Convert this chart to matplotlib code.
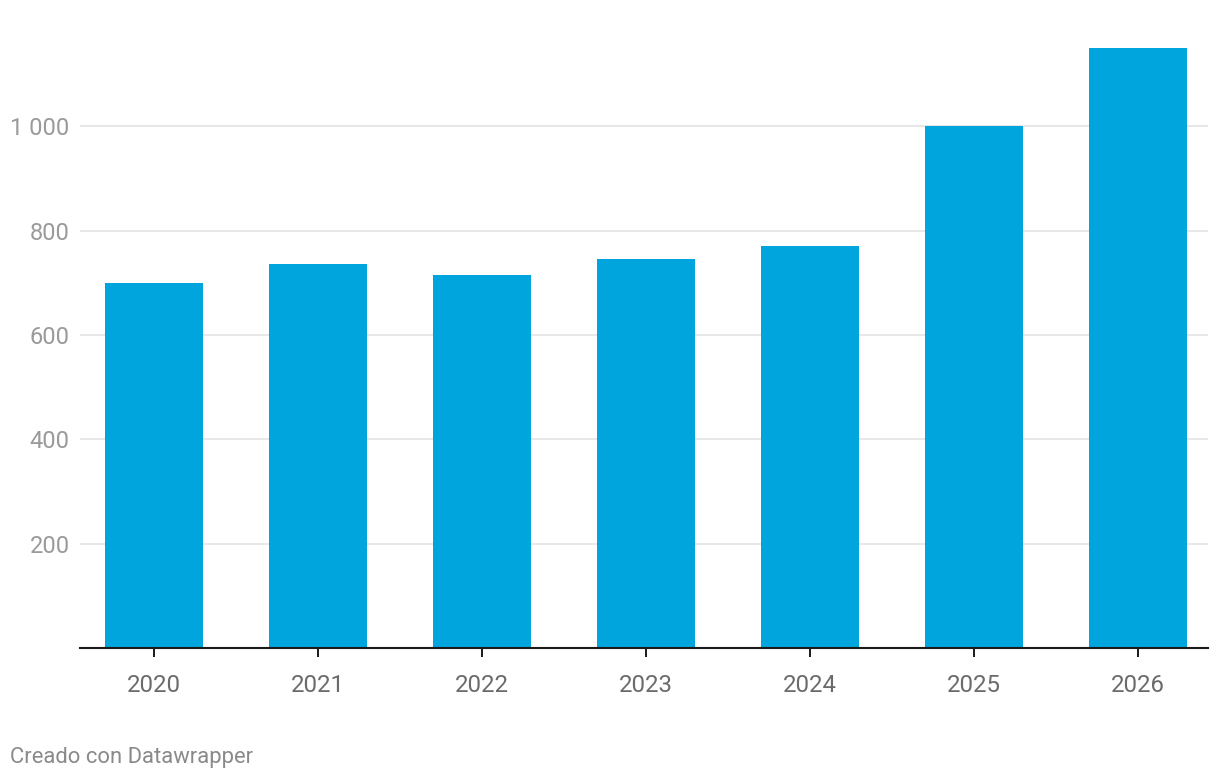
import matplotlib
matplotlib.use("Agg")
import matplotlib.pyplot as plt
from matplotlib.ticker import FuncFormatter, FixedLocator

years = ["2020", "2021", "2022", "2023", "2024", "2025", "2026"]
values = [700, 736, 715, 745, 770, 1000, 1150]
yticks = [200, 400, 600, 800, 1000]

plt.rcParams['font.family'] = ['Roboto', 'DejaVu Sans']

fig = plt.figure(figsize=(12.2, 7.8), dpi=100)
ax = fig.add_axes([80/1220, 132/780, 1128/1220, 600/780])

x = list(range(len(years)))
ax.bar(x, values, width=0.6, color='#00a5dd', zorder=3)

ax.set_xlim(-0.45, 6.425)
ax.set_ylim(0, 1150)

ax.yaxis.set_major_locator(FixedLocator(yticks))
ax.yaxis.set_major_formatter(FuncFormatter(lambda v, p: f"{int(v):,}".replace(",", " ")))
ax.grid(axis='y', color='#e5e5e5', linewidth=1.3, zorder=0)
ax.tick_params(axis='y', length=0, pad=7.5, labelsize=17, labelcolor='#9a9a9a')

ax.set_xticks(x)
ax.set_xticklabels(years)
ax.tick_params(axis='x', length=6.5, width=1.4, color='#1a1a1a', pad=12,
               labelsize=17.3, labelcolor='#6b6b6b')

for s in ['top', 'right', 'left']:
    ax.spines[s].set_visible(False)
ax.spines['bottom'].set_color('#1a1a1a')
ax.spines['bottom'].set_linewidth(1.5)
ax.spines['bottom'].set_zorder(4)

fig.text(10/1220, 1 - 757/780, "Creado con Datawrapper", fontsize=15.8,
         color='#8a8a8a', ha='left', va='center')

fig.savefig("out.png", dpi=100, facecolor='white')
